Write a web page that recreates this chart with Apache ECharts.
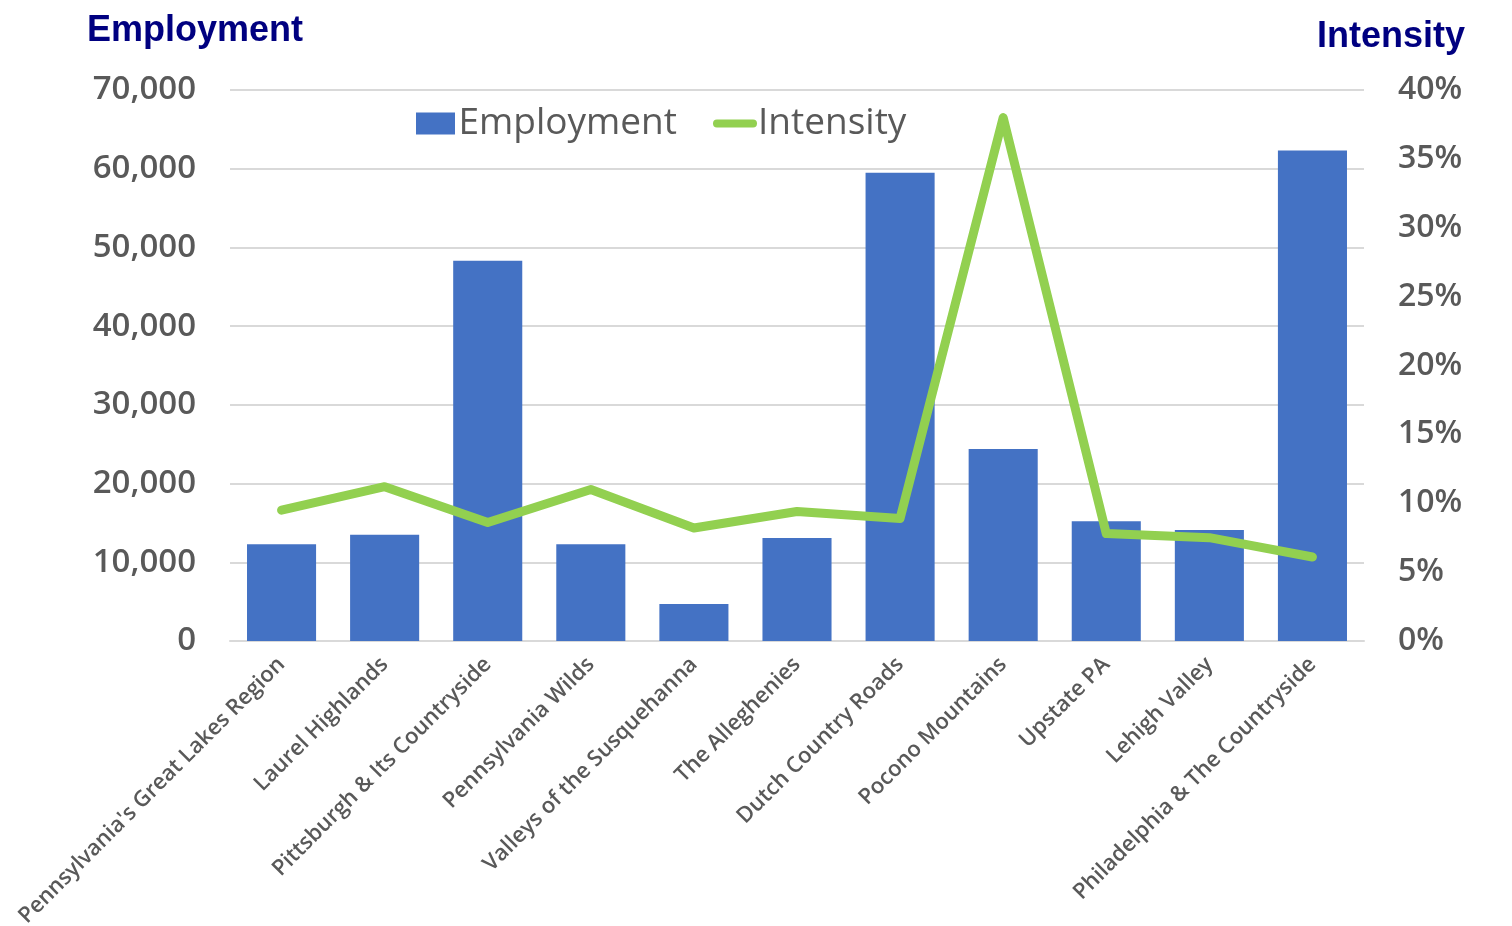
<!DOCTYPE html>
<html>
<head>
<meta charset="utf-8">
<script src="https://cdn.jsdelivr.net/npm/echarts@6/dist/echarts.min.js"></script>
<style>
html,body{margin:0;padding:0;background:#fff;}
#chart{width:1512px;height:926px;}
</style>
</head>
<body>
<div id="chart"></div>
<script>
const categories = ["Pennsylvania's Great Lakes Region","Laurel Highlands","Pittsburgh & Its Countryside","Pennsylvania Wilds","Valleys of the Susquehanna","The Alleghenies","Dutch Country Roads","Pocono Mountains","Upstate PA","Lehigh Valley","Philadelphia & The Countryside"];
const employment = [12300, 13500, 48300, 12300, 4700, 13100, 59500, 24400, 15200, 14100, 62300];
const intensity = [9.5, 11.2, 8.6, 11.0, 8.2, 9.4, 8.9, 38.0, 7.8, 7.5, 6.1];
const leftTicks = [0, 10000, 20000, 30000, 40000, 50000, 60000, 70000];
const rightTicks = [0, 5, 10, 15, 20, 25, 30, 35, 40];

const chart = echarts.init(document.getElementById('chart'));
const labelFont = '"Open Sans", sans-serif';
chart.setOption({
  animation: false,
  backgroundColor: '#ffffff',
  title: [
    {text: 'Employment', left: 82, top: 8, textStyle: {fontFamily: '"Liberation Sans", Arial, sans-serif', fontWeight: 'bold', fontSize: 36, color: '#000080'}},
    {text: 'Intensity', right: 42, top: 14, textStyle: {fontFamily: '"Liberation Sans", Arial, sans-serif', fontWeight: 'bold', fontSize: 36, color: '#000080'}}
  ],
  legend: {
    left: 411, top: 100,
    itemWidth: 44, itemHeight: 22, itemGap: 36,
    textStyle: {fontFamily: labelFont, fontSize: 37, color: '#595959', padding: [0,0,0,-4]},
    data: [
      {name: 'Employment', icon: 'path://M0,0 H39 V22 H0 Z'},
      {name: 'Intensity', icon: 'path://M4,0 H41 A4,4 0 0 1 41,8 H4 A4,4 0 0 1 4,0 Z', itemStyle: {color: '#92d050'}}
    ]
  },
  grid: {left: 230, right: 148, top: 90, bottom: 285, containLabel: false, outerBoundsMode: 'none'},
  xAxis: {
    type: 'category', data: categories,
    axisLine: {show: true, lineStyle: {color: '#d9d9d9', width: 2}},
    axisTick: {show: false},
    axisLabel: {rotate: 45, interval: 0, fontFamily: labelFont, fontSize: 22, fontWeight: 600, color: '#595959', margin: 20}
  },
  yAxis: [
    {
      type: 'value', min: leftTicks[0], max: leftTicks[leftTicks.length-1], interval: 10000,
      axisLine: {show: false}, axisTick: {show: false},
      splitLine: {lineStyle: {color: '#d9d9d9', width: 2}},
      axisLabel: {fontFamily: labelFont, fontSize: 33, fontWeight: 600, color: '#595959', margin: 34,
        formatter: v => v.toLocaleString('en-US')}
    },
    {
      type: 'value', min: rightTicks[0], max: rightTicks[rightTicks.length-1], interval: 5,
      axisLine: {show: false}, axisTick: {show: false}, splitLine: {show: false},
      axisLabel: {fontFamily: labelFont, fontSize: 32, fontWeight: 600, color: '#595959', margin: 34,
        formatter: v => v + '%'}
    }
  ],
  series: [
    {name: 'Employment', type: 'bar', data: employment, barWidth: '67%', yAxisIndex: 0,
      itemStyle: {color: '#4472c4'}},
    {name: 'Intensity', type: 'line', data: intensity, yAxisIndex: 1, symbol: 'none', showSymbol: false,
      lineStyle: {color: '#92d050', width: 9, cap: 'round', join: 'round'}, itemStyle: {color: '#92d050'}}
  ]
});
</script>
</body>
</html>
